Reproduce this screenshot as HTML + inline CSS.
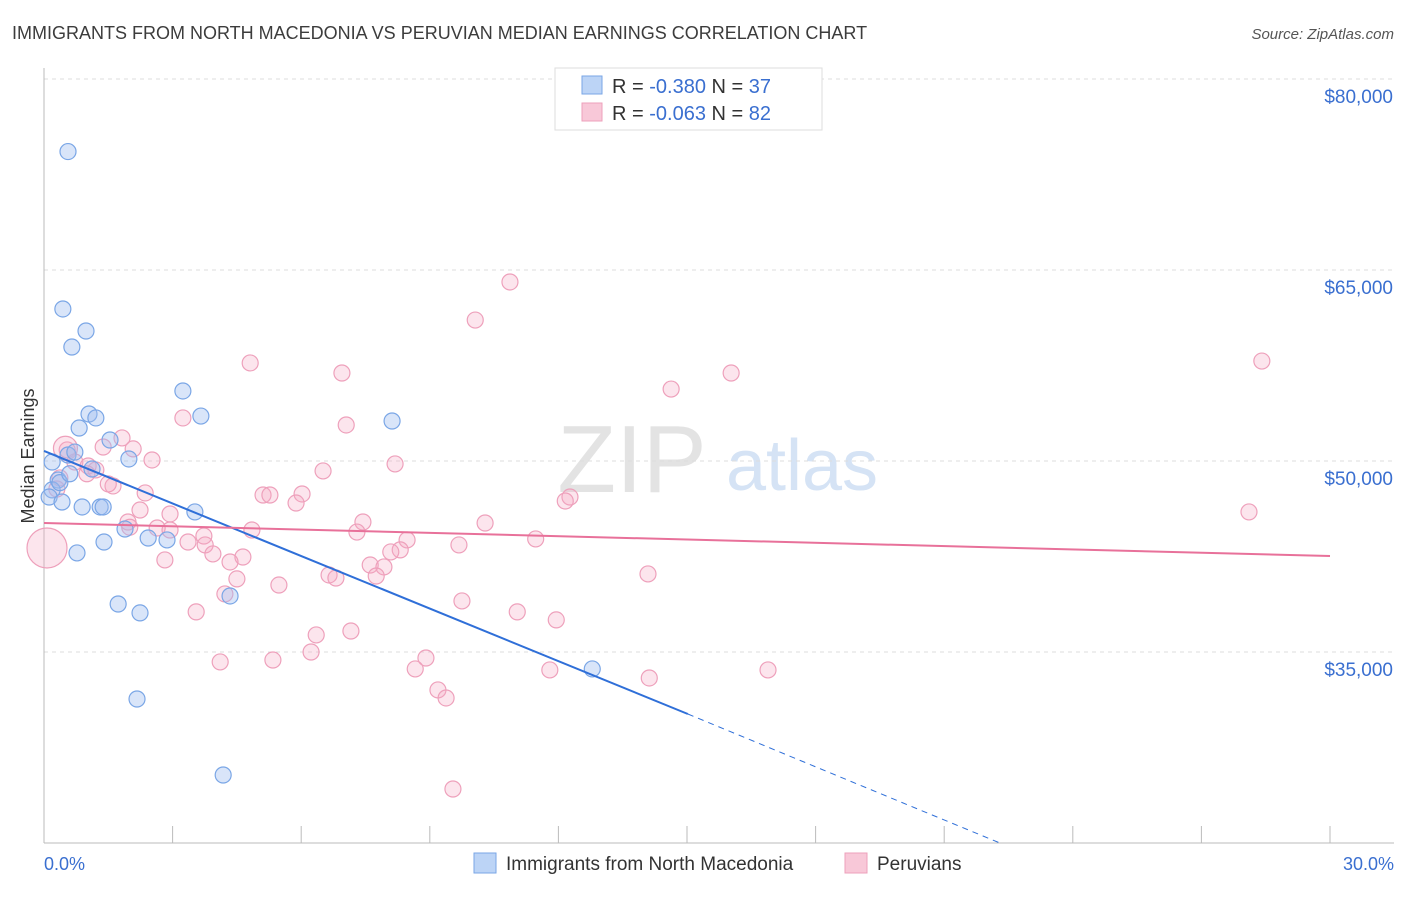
<!DOCTYPE html>
<html><head><meta charset="utf-8"><style>
body{margin:0;background:#fff;font-family:"Liberation Sans",sans-serif}
svg text{font-family:"Liberation Sans",sans-serif}
</style></head><body>
<svg width="1406" height="892" id="chart">
<text x="12" y="39" font-size="18" fill="#3c3c3c">IMMIGRANTS FROM NORTH MACEDONIA VS PERUVIAN MEDIAN EARNINGS CORRELATION CHART</text>
<text x="1394" y="39" font-size="15" fill="#555" font-style="italic" text-anchor="end">Source: ZipAtlas.com</text>
<g>
<text x="632" y="492" font-size="96" fill="#e3e3e3" font-family="Liberation Serif" text-anchor="middle">ZIP</text>
<text x="802" y="490" font-size="72" fill="#d5e3f5" text-anchor="middle">atlas</text>
</g>
<g id="grid"></g>
<g id="axes"></g>
<g id="pts"></g>
<g id="lines"></g>
<text transform="translate(34,456) rotate(-90)" font-size="18" fill="#333" text-anchor="middle">Median Earnings</text>
<text x="44" y="870" font-size="18" fill="#3a6fd0">0.0%</text>
<text x="1394" y="870" font-size="18" fill="#3a6fd0" text-anchor="end">30.0%</text>
<g>
<rect x="555" y="68" width="267" height="62" fill="#fff" stroke="#ddd"/>
<rect x="582" y="76" width="20" height="18" fill="#bcd4f6" stroke="#7aa6e6"/>
<text x="612" y="93" font-size="20" fill="#333">R = <tspan fill="#3a6fd0">-0.380</tspan>   N = <tspan fill="#3a6fd0">37</tspan></text>
<rect x="582" y="103" width="20" height="18" fill="#f8c8d8" stroke="#eea0bb"/>
<text x="612" y="120" font-size="20" fill="#333">R = <tspan fill="#3a6fd0">-0.063</tspan>   N = <tspan fill="#3a6fd0">82</tspan></text>
</g>
<g>
<rect x="474" y="853" width="22" height="20" fill="#bcd4f6" stroke="#7aa6e6"/>
<text x="506" y="870" font-size="19" fill="#333">Immigrants from North Macedonia</text>
<rect x="845" y="853" width="22" height="20" fill="#f8c8d8" stroke="#eea0bb"/>
<text x="877" y="870" font-size="19" fill="#333">Peruvians</text>
</g>
</svg>
<script>
const yTicks=[35000,50000,65000,80000];
const yTickLabels=["$35,000","$50,000","$65,000","$80,000"];
const blueX=[0.56,0.44,0.98,0.65,3.24,3.66,1.05,1.21,8.12,0.82,1.54,1.98,0.56,0.19,1.12,0.33,0.19,0.12,0.42,0.89,1.31,1.38,3.52,1.89,2.43,2.87,1.40,0.77,4.34,1.73,2.24,12.79,2.17,4.18,0.72,0.37,0.6];
const blueY=[74300,61940,60210,58950,55500,53530,53690,53380,53140,52590,51650,50160,50470,49920,49370,48510,47730,47170,46780,46390,46390,46390,46000,44660,43950,43800,43640,42780,39400,38770,38070,33670,31310,25340,50700,48300,49000];
const pinkX=[10.87,10.06,28.41,4.81,6.95,16.03,14.63,3.24,7.05,1.82,1.38,0.54,2.08,2.52,0.72,1.03,8.19,6.51,1.21,0.37,1.61,2.36,5.11,5.27,6.02,12.27,12.16,5.88,2.24,2.94,28.11,1.96,10.29,7.44,2.64,2.94,4.85,7.30,3.73,11.47,3.36,8.47,3.76,9.68,3.94,4.64,8.31,8.09,2.82,4.34,7.61,7.93,14.09,6.65,6.81,7.75,4.50,5.48,9.75,4.22,3.55,11.04,11.95,7.16,6.35,6.23,8.91,4.11,5.34,8.66,11.80,16.89,14.12,9.19,9.38,9.54,0.07,0.5,1.0,1.5,0.3,2.0];
const pinkY=[64060,61070,57850,57700,56910,56910,55650,53380,52830,51810,51100,50870,50950,50080,49920,49610,49770,49220,49300,48670,48040,47490,47330,47330,47410,47170,46860,46700,46150,45840,46000,45210,45130,45210,44740,44580,44580,44420,44110,43880,43640,43800,43410,43410,42700,42460,43020,42860,42230,42070,41830,41680,41130,41050,40810,40970,40740,40260,39010,39560,38150,38150,37520,36650,36340,35000,34530,34220,34370,33670,33590,33590,32960,32020,31390,24240,43170,51000,49000,48200,47800,44800];
const pinkR=[];pinkX.forEach((v,i)=>pinkR.push(i===76?20:(i===77?12:8)));
const blueTrend=[[0,50790],[15.02,30130],[22.3,20000]];
const pinkTrend=[[0,45130],[30,42540]];
const X=v=>44+v/30*1286;
const Y=v=>79+(80000-v)/15000*191;
const NS="http://www.w3.org/2000/svg";
function mk(t,a,p){const e=document.createElementNS(NS,t);for(const k in a)e.setAttribute(k,a[k]);document.getElementById(p).appendChild(e);return e;}
yTicks.forEach((t,i)=>{
const l=mk('line',{x1:44,x2:1394,y1:Y(t),y2:Y(t),stroke:'#ddd','stroke-dasharray':'4,4'},'grid');


const tx=mk('text',{x:1393,y:Y(t)+24,'font-size':19,fill:'#3a6fd0','text-anchor':'end'},'grid');
tx.textContent=yTickLabels[i];


});
const ax=mk('line',{x1:44,x2:44,y1:68,y2:843,stroke:'#bbb'},'axes');


const bx=mk('line',{x1:44,x2:1394,y1:843,y2:843,stroke:'#bbb'},'axes');


for(let i=0;i<=10;i++){const t=mk('line',{x1:X(i*3),x2:X(i*3),y1:826,y2:843,stroke:'#bbb'},'axes');

}
pinkX.forEach((v,i)=>{const c=mk('circle',{cx:X(v),cy:Y(pinkY[i]),r:pinkR[i],fill:'rgba(245,170,195,0.3)',stroke:'#eea0bb','stroke-width':1.2},'pts');

});
blueX.forEach((v,i)=>{const c=mk('circle',{cx:X(v),cy:Y(blueY[i]),r:8,fill:'rgba(160,190,240,0.4)',stroke:'#7aa6e6','stroke-width':1.2},'pts');

});
const b1=mk('line',{x1:X(blueTrend[0][0]),y1:Y(blueTrend[0][1]),x2:X(blueTrend[1][0]),y2:Y(blueTrend[1][1]),stroke:'#2f6fd8','stroke-width':2},'lines');


const b2=mk('line',{x1:X(blueTrend[1][0]),y1:Y(blueTrend[1][1]),x2:X(blueTrend[2][0]),y2:Y(blueTrend[2][1]),stroke:'#2f6fd8','stroke-width':1,'stroke-dasharray':'6,5'},'lines');


const p1=mk('line',{x1:X(pinkTrend[0][0]),y1:Y(pinkTrend[0][1]),x2:X(pinkTrend[1][0]),y2:Y(pinkTrend[1][1]),stroke:'#e8719a','stroke-width':2},'lines');


</script>
</body></html>
